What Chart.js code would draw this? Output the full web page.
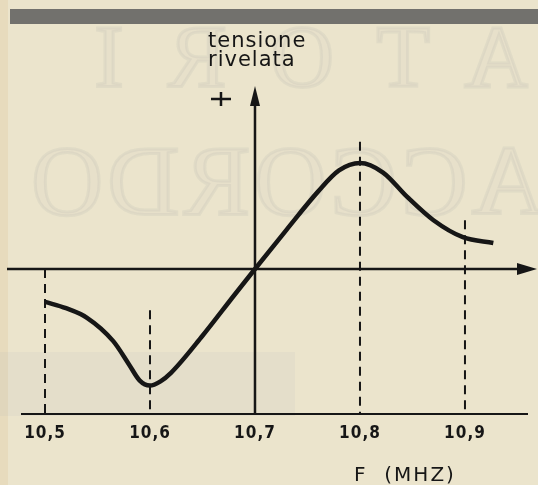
<!DOCTYPE html>
<html>
<head>
<meta charset="utf-8">
<title>tensione rivelata</title>
<script src="https://cdn.jsdelivr.net/npm/chart.js@4.4.1/dist/chart.umd.min.js"></script>
<style>
  html, body { margin: 0; padding: 0; background: #ebe4cc; }
  canvas { display: block; }
</style>
</head>
<body>
<canvas id="curve" width="538" height="485"></canvas>
<script>
/* ---------------- Data ---------------- */
// frequency (MHz) and detected voltage (arbitrary units, peak = 1)
const freq = [10.5, 10.52, 10.54, 10.565, 10.58, 10.59, 10.6, 10.61, 10.62,
              10.65, 10.68, 10.7, 10.73, 10.76, 10.78, 10.8, 10.822, 10.845, 10.87,
              10.898, 10.927];
const volt = [-0.31, -0.37, -0.46, -0.68, -0.90, -1.05, -1.10, -1.06, -0.98,
              -0.63, -0.25, 0, 0.37, 0.73, 0.93, 1.0, 0.91, 0.68, 0.46,
              0.30, 0.245];

const tickFreq  = [10.5, 10.6, 10.7, 10.8, 10.9];
const tickLabel = ["10,5", "10,6", "10,7", "10,8", "10,9"];
// upper end of the dashed marker at each tick (same units as volt); 10,7 is the axis
const markerFreq = [10.5, 10.6, 10.8, 10.9];
const markerTop  = [0, -0.39, 1.2, 0.46];

const yTitle = ["tensione", "rivelata"];
const xTitle = "F  (MHZ)";

const INK = "#161616";

/* ---------------- Paper ---------------- */
function drawPaper(ctx, w, h){
  ctx.save();
  ctx.fillStyle = "#ebe4cc";
  ctx.fillRect(0, 0, w, h);
  ctx.fillStyle = "rgba(214,180,120,0.18)";
  ctx.fillRect(0, 0, 8, h);
  ctx.fillStyle = "rgba(165,172,182,0.10)";
  ctx.fillRect(0, 352, 295, 64);

  // print showing through from the back of the page (mirrored)
  ctx.translate(w, 0);
  ctx.scale(-1, 1);
  ctx.strokeStyle = "rgba(120,130,140,0.09)";
  ctx.fillStyle = "rgba(150,155,160,0.035)";
  ctx.lineWidth = 3;
  ctx.textBaseline = "alphabetic";
  ctx.font = "100px 'Liberation Serif'";
  ctx.letterSpacing = "4px";
  ctx.fillText("ACCORDO", -6, 214);
  ctx.strokeText("ACCORDO", -6, 214);
  ctx.font = "88px 'Liberation Serif'";
  ctx.letterSpacing = "44px";
  ctx.fillText("ATORI", 10, 86);
  ctx.strokeText("ATORI", 10, 86);
  ctx.restore();

  // grey band at the top of the page
  ctx.fillStyle = "#72716d";
  ctx.fillRect(10, 9, w - 10, 15);
}

/* ---------------- Axes, markers, labels ---------------- */
const paperPlugin = {
  id: "paper",
  beforeDraw(chart){
    drawPaper(chart.ctx, chart.width, chart.height);
  },
  beforeDatasetsDraw(chart){
    const ctx = chart.ctx;
    const xs = chart.scales.x, ys = chart.scales.y;
    const area = chart.chartArea;
    const y0 = ys.getPixelForValue(0);
    const xAxis = xs.getPixelForValue(10.7);

    ctx.save();
    ctx.strokeStyle = INK;
    ctx.fillStyle = INK;
    ctx.lineCap = "butt";

    // dashed markers
    ctx.lineWidth = 2;
    ctx.setLineDash([9, 6]);
    markerFreq.forEach((f, i) => {
      const x = xs.getPixelForValue(f);
      ctx.beginPath();
      ctx.moveTo(x, ys.getPixelForValue(markerTop[i]));
      ctx.lineTo(x, area.bottom);
      ctx.stroke();
    });
    ctx.setLineDash([]);

    // baseline under the ticks
    ctx.lineWidth = 2;
    ctx.beginPath();
    ctx.moveTo(21, area.bottom);
    ctx.lineTo(528, area.bottom);
    ctx.stroke();

    // horizontal zero axis with arrow
    ctx.lineWidth = 2.5;
    ctx.beginPath();
    ctx.moveTo(7, y0);
    ctx.lineTo(area.right - 14, y0);
    ctx.stroke();
    ctx.beginPath();
    ctx.moveTo(area.right, y0);
    ctx.lineTo(area.right - 20, y0 - 6);
    ctx.lineTo(area.right - 20, y0 + 6);
    ctx.closePath();
    ctx.fill();

    // vertical axis with arrow
    ctx.lineWidth = 2.5;
    ctx.beginPath();
    ctx.moveTo(xAxis, area.bottom);
    ctx.lineTo(xAxis, area.top + 14);
    ctx.stroke();
    ctx.beginPath();
    ctx.moveTo(xAxis, area.top + 1);
    ctx.lineTo(xAxis - 5, area.top + 21);
    ctx.lineTo(xAxis + 5, area.top + 21);
    ctx.closePath();
    ctx.fill();

    // "+" beside the arrow
    ctx.lineWidth = 2.5;
    ctx.beginPath();
    ctx.moveTo(xAxis - 44, area.top + 14);
    ctx.lineTo(xAxis - 24, area.top + 14);
    ctx.moveTo(xAxis - 34, area.top + 7);
    ctx.lineTo(xAxis - 34, area.top + 21);
    ctx.stroke();

    // y title
    ctx.textAlign = "left";
    ctx.textBaseline = "alphabetic";
    ctx.font = "21px 'DejaVu Sans'";
    ctx.letterSpacing = "1px";
    ctx.fillText(yTitle[0], 208, 47);
    ctx.fillText(yTitle[1], 208, 66);

    // tick labels
    ctx.textAlign = "center";
    ctx.textBaseline = "middle";
    ctx.font = "bold 17px 'DejaVu Sans Condensed'";
    ctx.letterSpacing = "1px";
    tickFreq.forEach((f, i) => {
      ctx.fillText(tickLabel[i], xs.getPixelForValue(f), area.bottom + 20);
    });

    // x title
    ctx.font = "20px 'DejaVu Sans'";
    ctx.letterSpacing = "2px";
    ctx.fillText(xTitle, 405, area.bottom + 62);
    ctx.restore();
  }
};

/* ---------------- Chart ---------------- */
new Chart(document.getElementById("curve"), {
  type: "line",
  data: {
    datasets: [{
      data: freq.map((f, i) => ({ x: f, y: volt[i] })),
      borderColor: INK,
      borderWidth: 4.5,
      pointRadius: 0,
      cubicInterpolationMode: "monotone",
      fill: false
    }]
  },
  options: {
    responsive: false,
    devicePixelRatio: 1,
    animation: false,
    layout: { padding: { left: 5, right: 1, top: 85, bottom: 71 } },
    scales: {
      x: { type: "linear", min: 10.4619, max: 10.9686, display: false },
      y: { min: -1.368, max: 1.736, display: false }
    },
    plugins: { legend: { display: false }, tooltip: { enabled: false } }
  },
  plugins: [paperPlugin]
});
</script>
</body>
</html>
